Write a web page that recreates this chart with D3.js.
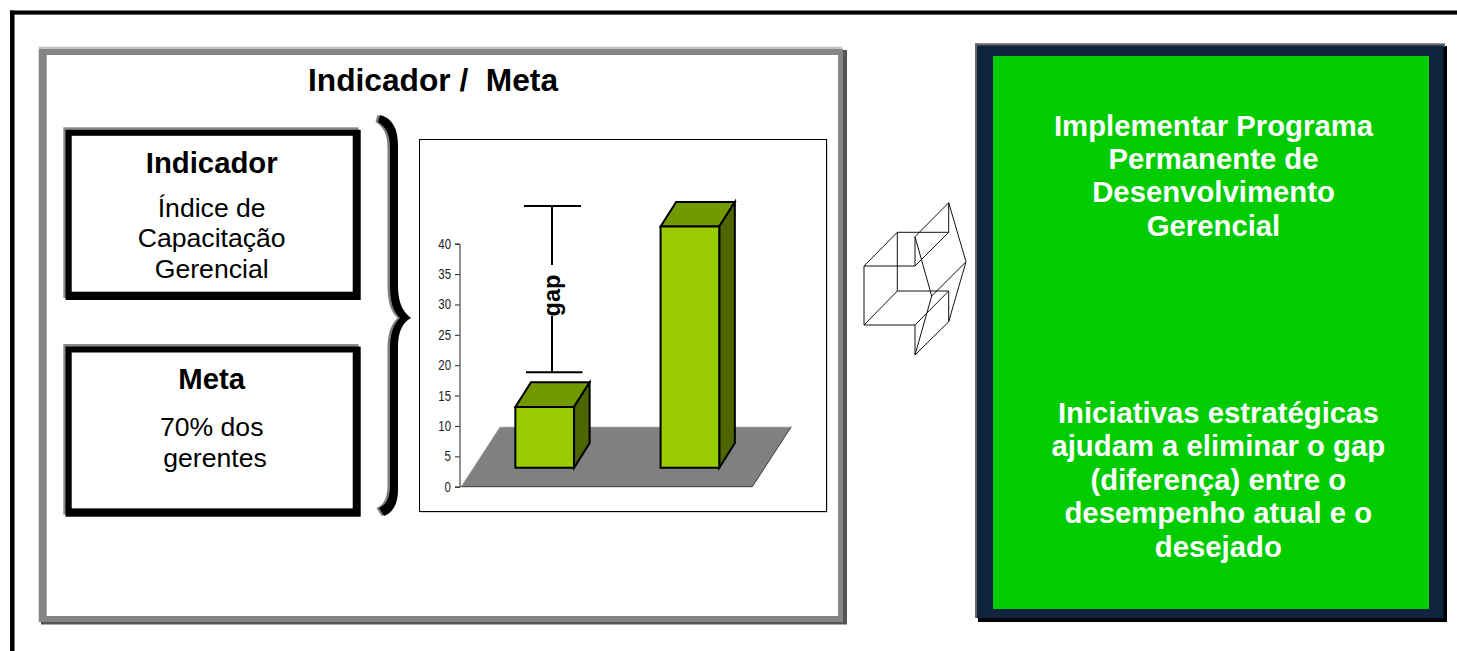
<!DOCTYPE html>
<html lang="pt">
<head>
<meta charset="utf-8">
<title>Indicador / Meta</title>
<script src="https://cdn.jsdelivr.net/npm/d3@7/dist/d3.min.js"></script>
<style>
  html, body { margin: 0; padding: 0; background: #fff; overflow: hidden; }
  svg { display: block; }
  text { font-family: "Liberation Sans", Arial, sans-serif; white-space: pre; }
</style>
</head>
<body>
<svg id="slide" width="1457" height="651"></svg>
<script>
// Chart values
const categories = ["Atual", "Desejado"];
const barValues = [10, 39.7];
const axisTicks = [0, 5, 10, 15, 20, 25, 30, 35, 40];

// Slide copy
const panelTitle = "Indicador /  Meta";
const indicatorHead = "Indicador";
const indicatorBody = ["Índice de", "Capacitação", "Gerencial"];
const goalHead = "Meta";
const goalBody = ["70% dos", "gerentes"];
const programLines = ["Implementar Programa", "Permanente de", "Desenvolvimento", "Gerencial"];
const initiativeLines = ["Iniciativas estratégicas", "ajudam a eliminar o gap", "(diferença) entre o", "desempenho atual e o", "desejado"];

const svg = d3.select("#slide");

function box(x0, y0, x1, y1, fill) {
  svg.append("rect").attr("x", x0).attr("y", y0)
    .attr("width", x1 - x0).attr("height", y1 - y0).attr("fill", fill);
}
function label(parent, str, x, y, size, opts = {}) {
  return parent.append("text").attr("x", x).attr("y", y)
    .attr("text-anchor", opts.anchor || "middle")
    .attr("font-size", size)
    .attr("font-weight", opts.bold ? 700 : 400)
    .attr("fill", opts.fill || "#000")
    .text(str);
}

// Page frame: top and left rules running off the slide
box(10, 14, 1457, 15, "#777");
box(10, 10.5, 1457, 14.2, "#000");
box(10, 10.5, 14.5, 651, "#000");

// Left panel with bevelled grey border
box(38.5, 46.7, 842, 622, "#c4c4c4");
box(41, 50, 847, 624.5, "#555");
box(39, 49, 843, 622, "#858585");
box(46.7, 55, 838, 616, "#fff");
label(svg, panelTitle, 433, 91, 31.7, { bold: true });

// Indicator and goal cards
function card(y0, y1) {
  box(63.3, y0, 358.5, y1 - 2, "#8a8a8a");
  box(65.5, y0 + 2.5, 360.7, y1, "#000");
  box(71.7, y0 + 8.5, 352.7, y1 - 8.3, "#fff");
}
card(127.3, 300);
card(344, 516.7);

label(svg, indicatorHead, 211.7, 172.7, 29.3, { bold: true });
[216.7, 246.7, 277.7].forEach((by, i) => label(svg, indicatorBody[i], 211.7, by, 26.6));
label(svg, goalHead, 211.7, 389.2, 29.3, { bold: true });
label(svg, goalBody[0], 211.7, 436, 26.6);
label(svg, goalBody[1], 215, 466.7, 26.6);

// Curly brace beside the chart, with a soft grey shadow on its left
const bracePath = "M380,115 C392,118 398,128 398,146 L398,285 C398,302 402,311 411,318 C402,323 398,332 398,348 L398,490 C398,505 392,513 384,516 L379,508 C386,505 390,498 390,486 L390,350 C390,334 393,325 400,318 C393,311 390,302 390,284 L390,148 C390,134 386,127 378,122 Z";
svg.append("path").attr("d", bracePath).attr("fill", "#7c7c7c").attr("transform", "translate(-2.5,0)");
svg.append("path").attr("d", bracePath).attr("fill", "#000");

// Chart frame
box(420, 140, 828, 513, "#d6d6d6");
svg.append("rect").attr("x", 419.5).attr("y", 139.5).attr("width", 407).attr("height", 372)
  .attr("fill", "#fff").attr("stroke", "#000").attr("stroke-width", 1);

// Scales for the 3D column chart
const y = d3.scaleLinear().domain([0, 40]).range([486.7, 243.7]);
const x = d3.scaleBand().domain(categories).range([460.7, 752.3])
  .paddingInner(0.596).paddingOuter(0.302);

const floorDepth = { dx: 39, dy: 60 };
const barDepth = { dx: 15.6, dy: 24.6 };
const barOffset = { dx: 10.8, dy: 19 };

// Floor of the plot
const chart = svg.append("g");
const [fx0, fx1] = x.range();
const floorPts = [[fx0, y(0)], [fx1, y(0)], [fx1 + floorDepth.dx, y(0) - floorDepth.dy], [fx0 + floorDepth.dx, y(0) - floorDepth.dy]];
chart.append("path").attr("d", d3.line()(floorPts) + "Z").attr("fill", "#808080");
chart.append("path").attr("d", d3.line()([floorPts[0], floorPts[3], floorPts[2]])).attr("fill", "none").attr("stroke", "#e8e8e8").attr("stroke-width", 1);
chart.append("path").attr("d", d3.line()([floorPts[0], floorPts[1], floorPts[2]])).attr("fill", "none").attr("stroke", "#3a3a3a").attr("stroke-width", 1);

// Value axis; tick labels are set in a horizontally condensed face
const tickSquash = 0.82;
const axis = chart.append("g").attr("transform", "translate(459.5,0)")
  .call(d3.axisLeft(y).tickValues(axisTicks).tickSize(4.5).tickPadding(4));
axis.select(".domain").attr("stroke", "#222").attr("stroke-width", 1);
axis.selectAll(".tick line").attr("stroke", "#222");
axis.selectAll("text")
  .style("font-family", '"Liberation Sans", sans-serif')
  .attr("font-size", 14).attr("fill", "#222")
  .attr("x", -8.5 / tickSquash)
  .attr("transform", `scale(${tickSquash},1)`);

// Columns: front, top and side faces
const columns = chart.selectAll("g.column")
  .data(categories.map((c, i) => ({ c, v: barValues[i] })))
  .join("g").attr("class", "column");

const faceStyle = sel => sel.attr("stroke", "#000").attr("stroke-width", 2).attr("stroke-linejoin", "miter");
const corners = d => {
  const l = x(d.c) + barOffset.dx, r = l + x.bandwidth();
  const b = y(0) - barOffset.dy, t = b - (y(0) - y(d.v));
  return { l, r, b, t };
};
columns.append("path").attr("fill", "#739900").call(faceStyle)
  .attr("d", d => { const k = corners(d); return d3.line()([[k.l, k.t], [k.r, k.t], [k.r + barDepth.dx, k.t - barDepth.dy], [k.l + barDepth.dx, k.t - barDepth.dy]]) + "Z"; });
columns.append("path").attr("fill", "#4d6600").call(faceStyle)
  .attr("d", d => { const k = corners(d); return d3.line()([[k.r, k.t], [k.r + barDepth.dx, k.t - barDepth.dy], [k.r + barDepth.dx, k.b - barDepth.dy], [k.r, k.b]]) + "Z"; });
columns.append("path").attr("fill", "#99cc00").call(faceStyle)
  .attr("d", d => { const k = corners(d); return d3.line()([[k.l, k.t], [k.r, k.t], [k.r, k.b], [k.l, k.b]]) + "Z"; });

// Gap bracket between current and desired performance
const gapRules = [
  [[524, 206], [581, 206]],
  [[526, 372.3], [582.5, 372.3]],
  [[552, 206], [552, 265]],
  [[552, 316], [552, 372.3]]
];
chart.selectAll("path.gap").data(gapRules).join("path").attr("class", "gap")
  .attr("d", d3.line()).attr("fill", "none").attr("stroke", "#000").attr("stroke-width", 2);
label(chart, "gap", 0, 0, 23.5, { bold: true }).attr("transform", "translate(560,295.5) rotate(-90)");

// Wireframe 3D arrow pointing at the right-hand panel
const arrowPts = {
  a: [864, 266], b: [897.3, 232.3], c: [948.7, 232.3], d: [948.7, 202.7], e: [966, 261.7],
  f: [948.7, 321.7], g: [948.7, 291], h: [897.3, 291], i: [864, 325], j: [915, 325],
  k: [915, 266], l: [915, 236.7], m: [931.7, 296], n: [915, 355]
};
const arrowEdges = ["ab", "bc", "cd", "de", "ef", "fg", "gh", "hb", "ai", "ij", "ak", "kc", "kl", "hi", "jg", "jn", "nf", "ld", "lm", "mn", "me"];
svg.append("g").selectAll("path").data(arrowEdges).join("path")
  .attr("d", s => d3.line()([arrowPts[s[0]], arrowPts[s[1]]]))
  .attr("fill", "none").attr("stroke", "#111").attr("stroke-width", 1);

// Right-hand panel
box(978, 46, 1447, 622, "#000");
box(975, 43.3, 1445, 47, "#666");
box(975, 43.3, 977.5, 618, "#666");
box(977, 45.5, 1443.5, 618.3, "#10243e");
box(993, 56, 1429, 609, "#00cc00");

[135.7, 168.7, 202.3, 235.7].forEach((by, i) =>
  label(svg, programLines[i], 1213.5, by, 29.3, { bold: true, fill: "#fff" }));
[423.3, 456.3, 489.7, 523.3, 556.7].forEach((by, i) =>
  label(svg, initiativeLines[i], 1218.3, by, 29.3, { bold: true, fill: "#fff" }));
</script>
</body>
</html>
